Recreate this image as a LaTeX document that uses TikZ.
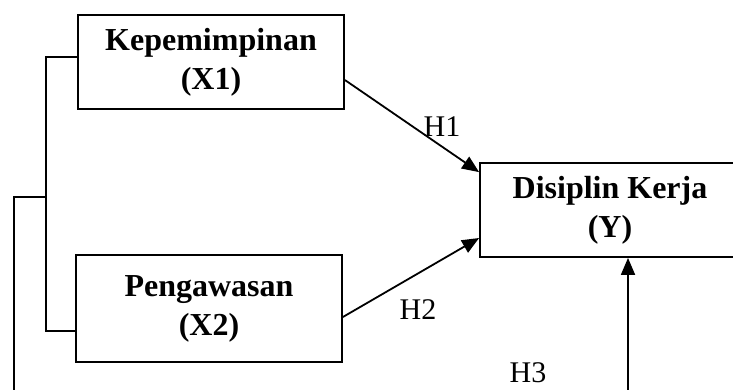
\documentclass[tikz,border=0pt]{standalone}
\usepackage{fontspec}
\setmainfont{Liberation Serif}
\usetikzlibrary{arrows.meta}
\begin{document}
\begin{tikzpicture}[x=1pt,y=-1pt,
  varbox/.style={draw, line width=1.8pt, inner sep=0pt, align=center,
    font=\bfseries\fontsize{32}{39}\selectfont},
  conn/.style={line width=1.8pt},
  arr/.style={line width=1.8pt, -{Triangle[length=17pt,width=14pt]}},
  hlabel/.style={inner sep=0pt, font=\fontsize{30}{36}\selectfont}]
\useasboundingbox (0,0) rectangle (733,389);
\clip (0,0) rectangle (733,389);
\node[varbox, minimum width=266pt, minimum height=94pt] (X1) at (211,62) {Kepemimpinan\\(X1)};
\node[varbox, minimum width=266pt, minimum height=107pt] (X2) at (209,308.5) {Pengawasan\\(X2)};
\node[varbox, minimum width=260pt, minimum height=94pt] (Y) at (610,210) {Disiplin Kerja\\(Y)};
\coordinate (bus) at (46,197);
\coordinate (bot1) at (14,420);
\coordinate (bot2) at (628,420);
\draw[conn] ([yshift=5pt]X1.west) -| (bus) |- ([yshift=-22.5pt]X2.west);
\draw[conn] (bus) -| (bot1);
\draw[arr] ([yshift=-18pt]X1.east) -- ([yshift=-10pt]Y.north west);
\draw[arr] ([yshift=-8.5pt]X2.east) -- ([yshift=-28pt]Y.west);
\draw[arr] (bot2) -- (Y.south -| bot2);
\node[hlabel] (H1) at (442,127) {H1};
\node[hlabel] (H2) at (418,310) {H2};
\node[hlabel] (H3) at (528,373) {H3};
\end{tikzpicture}
\end{document}
